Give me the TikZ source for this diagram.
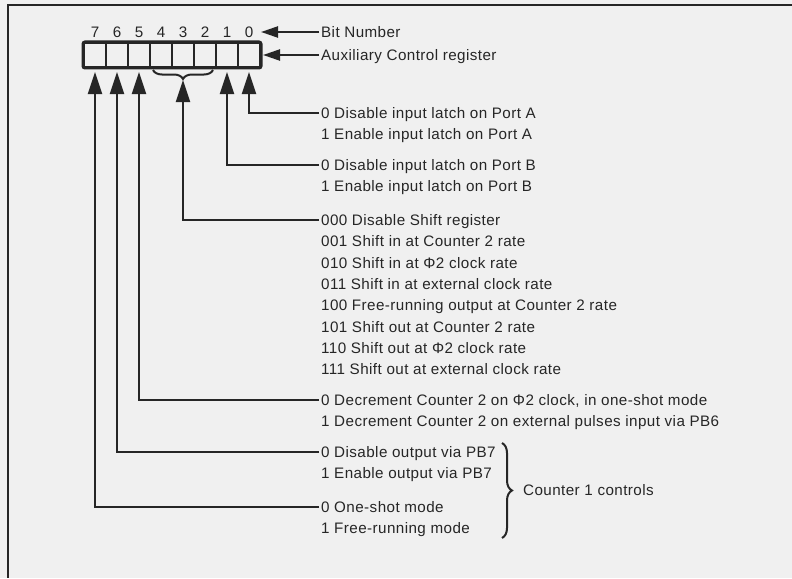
\documentclass[tikz,border=0pt]{standalone}
\usepackage{fontspec}
\setmainfont{Liberation Sans}[LetterSpace=2.8]
\usetikzlibrary{arrows.meta,decorations.pathreplacing}

\begin{document}
\begin{tikzpicture}[x=1pt, y=-1pt, line width=2.3pt, color=black!85,
  txt/.style={anchor=west, inner sep=1pt, font=\fontsize{15.2}{18}\selectfont, text height=10.8pt, text depth=0pt},
  num/.style={inner sep=0pt, font=\fontsize{15.2}{18}\selectfont, text height=10.8pt, text depth=0pt},
  cell/.style={draw, minimum width=22pt, minimum height=24pt, inner sep=0pt, line width=2pt},
  uparrow/.style={-{Triangle[length=22pt,width=14pt]}, shorten >=4pt},
  sidearrow/.style={-{Triangle[length=17pt,width=11pt]}, shorten >=2pt}]
  \fill[black!6] (0,0) rectangle (792,578);
  \useasboundingbox (0,0) rectangle (792,578);
  \draw[line width=2.2pt] (792,5) -- (8,5) -- (8,578);
  \node[cell] (b7) at (95,55) {};
  \node[cell] (b6) at (117,55) {};
  \node[cell] (b5) at (139,55) {};
  \node[cell] (b4) at (161,55) {};
  \node[cell] (b3) at (183,55) {};
  \node[cell] (b2) at (205,55) {};
  \node[cell] (b1) at (227,55) {};
  \node[cell] (b0) at (249,55) {};
  \draw[line width=3pt, rounded corners=2pt] (b7.north west) rectangle (b0.south east);
  \node[num] (n7) at (95,32) {7};
  \node[num] (n6) at (117,32) {6};
  \node[num] (n5) at (139,32) {5};
  \node[num] (n4) at (161,32) {4};
  \node[num] (n3) at (183,32) {3};
  \node[num] (n2) at (205,32) {2};
  \node[num] (n1) at (227,32) {1};
  \node[num] (n0) at (249,32) {0};
  \coordinate (bitend) at (261,32);
  \node[txt] (bitnum) at (319,32) {Bit Number};
  \node[txt] (aux) at (319,55) {Auxiliary Control register};
  \draw[sidearrow, shorten >=0pt] (bitnum.west) -- (bitend);
  \draw[sidearrow] (aux.west) -- (b0.east);
  \coordinate (brr) at (213,70);
  \coordinate (brl) at (153,70);
  \coordinate (brt) at (183,80);
  \draw[decorate, decoration={brace, amplitude=9pt}, line width=2pt] (brr) -- (brl);
  \node[txt] (pa0) at (319,113) {0 Disable input latch on Port A};
  \node[txt] (pa1) at (319,134) {1 Enable input latch on Port A};
  \node[txt] (pb0) at (319,165) {0 Disable input latch on Port B};
  \node[txt] (pb1) at (319,186) {1 Enable input latch on Port B};
  \node[txt] (sr0) at (319,220) {000 Disable Shift register};
  \node[txt] (sr1) at (319,241.3) {001 Shift in at Counter 2 rate};
  \node[txt] (sr2) at (319,262.6) {010 Shift in at Φ2 clock rate};
  \node[txt] (sr3) at (319,284) {011 Shift in at external clock rate};
  \node[txt] (sr4) at (319,305.3) {100 Free-running output at Counter 2 rate};
  \node[txt] (sr5) at (319,326.6) {101 Shift out at Counter 2 rate};
  \node[txt] (sr6) at (319,348) {110 Shift out at Φ2 clock rate};
  \node[txt] (sr7) at (319,369.3) {111 Shift out at external clock rate};
  \node[txt] (dc0) at (319,400) {0 Decrement Counter 2 on Φ2 clock, in one-shot mode};
  \node[txt] (dc1) at (319,421.5) {1 Decrement Counter 2 on external pulses input via PB6};
  \node[txt] (ob0) at (319,452) {0 Disable output via PB7};
  \node[txt] (ob1) at (319,473) {1 Enable output via PB7};
  \node[txt] (os0) at (319,507) {0 One-shot mode};
  \node[txt] (os1) at (319,528) {1 Free-running mode};
  \coordinate (cbt) at (502,443);
  \coordinate (cbb) at (502,538);
  \draw[decorate, decoration={brace, amplitude=10pt}, line width=2pt] (cbt) -- (cbb);
  \node[txt] (cnt) at (521,490) {Counter 1 controls};
  \draw[uparrow] (pa0.west) -| (b0.south);
  \draw[uparrow] (pb0.west) -| (b1.south);
  \draw[uparrow, shorten >=0pt] (sr0.west) -| (brt);
  \draw[uparrow] (dc0.west) -| (b5.south);
  \draw[uparrow] (ob0.west) -| (b6.south);
  \draw[uparrow] (os0.west) -| (b7.south);
\end{tikzpicture}
\end{document}
